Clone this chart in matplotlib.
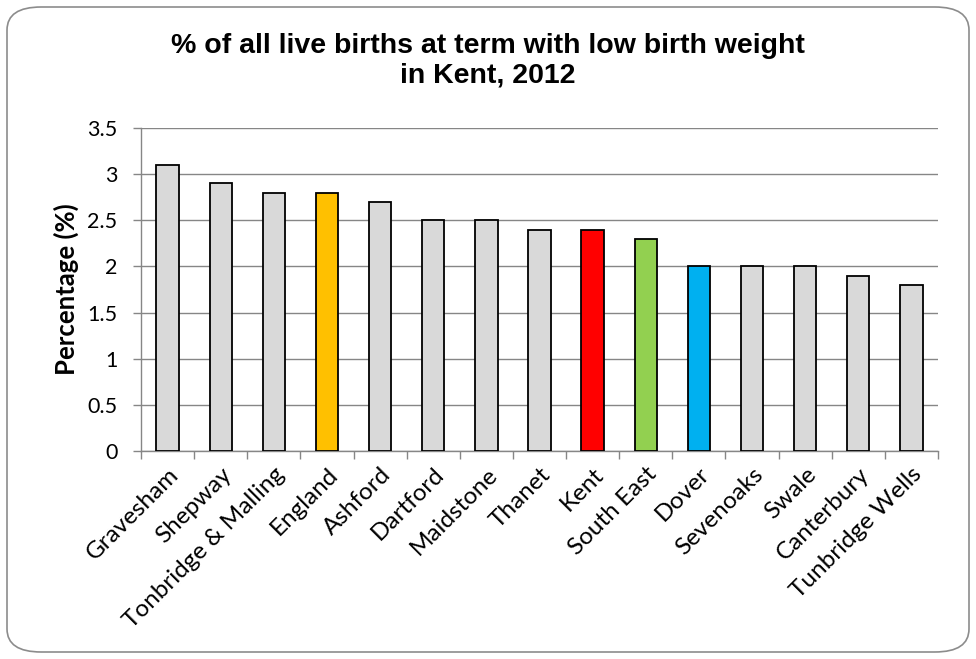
import numpy as np
import matplotlib
matplotlib.use("Agg")
import matplotlib.pyplot as plt
from matplotlib.patches import FancyBboxPatch

areas = ["Gravesham", "Shepway", "Tonbridge & Malling", "England", "Ashford",
         "Dartford", "Maidstone", "Thanet", "Kent", "South East", "Dover",
         "Sevenoaks", "Swale", "Canterbury", "Tunbridge Wells"]
pct = [3.1, 2.9, 2.8, 2.8, 2.7, 2.5, 2.5, 2.4, 2.4, 2.3, 2.0, 2.0, 2.0, 1.9, 1.8]
highlight = {"England": "#FFC000", "Kent": "#FF0000",
             "South East": "#92D050", "Dover": "#00B0F0"}
y_ticks = [0, 0.5, 1, 1.5, 2, 2.5, 3, 3.5]

GRID = "#868686"
BASE = "#D9D9D9"

fig = plt.figure(figsize=(9.76, 6.59), dpi=100)
ax = fig.add_axes([0.1445, 0.3156, 0.8165, 0.4902])

# rounded outer frame
frame = FancyBboxPatch((7 / 976, 7 / 659), 962 / 976, 645 / 659,
                       boxstyle="round,pad=0,rounding_size=0.035",
                       transform=fig.transFigure, facecolor="none",
                       edgecolor="#8c8c8c", linewidth=1.2, zorder=0)
fig.patches.append(frame)

x = np.arange(len(areas))
colors = [highlight.get(a, BASE) for a in areas]
ax.bar(x, pct, width=0.42, color=colors, edgecolor="black", linewidth=1.3, zorder=3)

ax.set_xlim(-0.5, len(areas) - 0.5)
ax.set_ylim(0, 3.5)
ax.set_yticks(y_ticks)
ax.set_yticklabels([f"{v:g}" for v in y_ticks], fontsize=15.5, family="Lato")
ax.yaxis.grid(True, color=GRID, linewidth=1.0, zorder=0)
ax.set_axisbelow(True)

ax.set_xticks(x)
ax.set_xticklabels(areas, rotation=45, ha="right", rotation_mode="anchor",
                   fontsize=17.5, family="Lato")
ax.tick_params(axis="x", which="major", length=0, pad=9)
ax.set_xticks(np.arange(-0.5, len(areas)), minor=True)
ax.tick_params(axis="x", which="minor", length=6, color=GRID, width=1.0)
ax.tick_params(axis="y", length=6, color=GRID, width=1.0, pad=11)

for s in ["top", "right"]:
    ax.spines[s].set_visible(False)
for s in ["left", "bottom"]:
    ax.spines[s].set_color(GRID)
    ax.spines[s].set_linewidth(1.0)

ax.set_ylabel("Percentage (%)", fontsize=18.5, fontweight="bold", family="Lato", labelpad=6)
fig.text(0.5, 0.908, "% of all live births at term with low birth weight\nin Kent, 2012",
         ha="center", va="center", fontsize=20.5, fontweight="bold",
         family="Liberation Sans", linespacing=1.15)

fig.savefig("out.png", dpi=100)
